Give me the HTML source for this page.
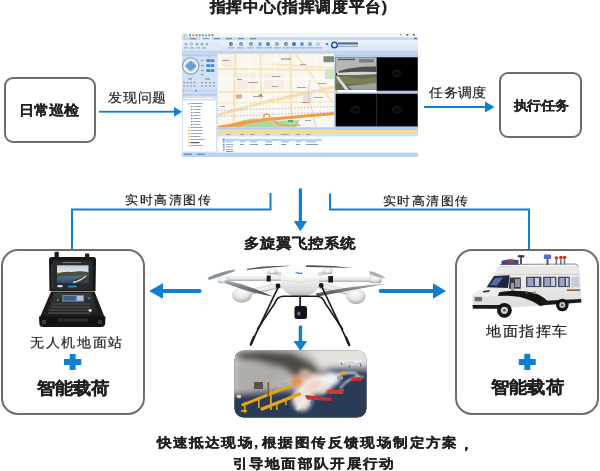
<!DOCTYPE html>
<html><head><meta charset="utf-8">
<style>
html,body{margin:0;padding:0;background:#fff;}
body{width:600px;height:471px;position:relative;overflow:hidden;font-family:"Liberation Sans",sans-serif;color:#231f20;}
.t{position:absolute;white-space:nowrap;line-height:1;}
.b{font-weight:bold;}
.box{position:absolute;box-sizing:border-box;border:2px solid #6d6d6d;background:#fff;}
svg{position:absolute;left:0;top:0;}
</style></head><body>
<!-- boxes -->
<div class="box" style="left:4.3px;top:77px;width:92px;height:66px;border-radius:9px;"></div>
<div class="box" style="left:498.6px;top:72.2px;width:83.3px;height:66.3px;border-radius:9px;"></div>
<div class="box" style="left:0.9px;top:248.7px;width:144.6px;height:166.2px;border-radius:17px;"></div>
<div class="box" style="left:454.7px;top:248.6px;width:144.3px;height:166.3px;border-radius:17px;"></div>

<svg width="600" height="471" viewBox="0 0 600 471">
  <g fill="#0f7fd3" stroke="none">
    <!-- arrow 发现问题 -->
    <rect x="99" y="110.8" width="76" height="1.8"/>
    <polygon points="174,107 182,111.7 174,116.7"/>
    <!-- arrow 任务调度 -->
    <rect x="424" y="106" width="62" height="2"/>
    <polygon points="485,101.5 494.5,107 485,112.5"/>
    <!-- central down arrow -->
    <rect x="298.8" y="188.3" width="3.2" height="34" rx="1.2"/>
    <polygon points="293.8,221 307.1,221 300.4,231.2"/>
    <!-- lower down arrow -->
    <rect x="298.7" y="325.6" width="3.4" height="17" rx="1.2"/>
    <polygon points="293.6,340.9 307.2,340.9 300.4,351.1"/>
    <!-- left arrow -->
    <rect x="160" y="289" width="41.5" height="4" rx="2"/>
    <polygon points="149,291 163,283.3 163,298.7"/>
    <!-- right arrow -->
    <rect x="378.7" y="289" width="56" height="4" rx="2"/>
    <polygon points="446,291 433,283.3 433,298.7"/>
    <!-- plus signs -->
    <rect x="64" y="359" width="17.3" height="6"/>
    <rect x="69.7" y="354" width="6" height="16"/>
    <rect x="518.8" y="359" width="17" height="6"/>
    <rect x="524.3" y="353.8" width="6" height="16.2"/>
  </g>
  <g fill="none" stroke="#0f7fd3" stroke-width="2">
    <polyline points="72,249 72,209.6 270.5,209.6 270.5,193"/>
    <polyline points="330,193.5 330,209.6 529,209.6 529,249"/>
  </g>
</svg>


<!-- screenshot -->
<svg style="left:182px;top:33px;" width="236" height="124" viewBox="182 33 236 124">
  <defs>
    <linearGradient id="rib" x1="0" y1="0" x2="0" y2="1">
      <stop offset="0" stop-color="#eef4fb"/><stop offset="1" stop-color="#cfdef1"/>
    </linearGradient>
    <clipPath id="mapclip"><rect x="217.5" y="54" width="117" height="73.5"/></clipPath>
    <radialGradient id="ptz" cx="0.5" cy="0.5" r="0.5">
      <stop offset="0" stop-color="#5aa0dc"/><stop offset="0.45" stop-color="#e8eef6"/><stop offset="0.8" stop-color="#9fb3cc"/><stop offset="1" stop-color="#e9f0f8"/>
    </radialGradient>
  </defs>
  <!-- window bg -->
  <rect x="182" y="33" width="236" height="124" fill="#d3e2f4"/>
  <rect x="182" y="33" width="236" height="4.5" fill="#f4f7fb"/>
  <circle cx="184.9" cy="36.3" r="2.3" fill="#e9eef5" stroke="#9fb6d6" stroke-width="0.5"/><circle cx="184.6" cy="36" r="1.1" fill="#f0b030"/>
  <g fill="#5b95d6"><rect x="189" y="34.3" width="2" height="2"/><rect x="192.2" y="34.3" width="2" height="2" fill="#d09a40"/><rect x="195.4" y="34.3" width="2" height="2" fill="#b08a50"/><rect x="198.6" y="34.3" width="2" height="2"/><rect x="201.8" y="34.3" width="2" height="2"/><rect x="205" y="34.3" width="2" height="2" fill="#7fb6e6"/><rect x="208.2" y="34.3" width="2" height="2" fill="#c0904a"/><rect x="211.4" y="34.3" width="2" height="2"/></g>
  <g fill="#555"><rect x="400" y="34.3" width="1.5" height="0.8"/><rect x="406.5" y="34" width="1.8" height="1.5"/><rect x="413" y="34" width="1.8" height="1.5"/></g>
  <rect x="182" y="37.3" width="236" height="2.9" fill="#c6daf2"/>
  <rect x="200.7" y="37.3" width="10.6" height="2.9" fill="#f4f7fb"/>
  <g fill="#4f6fa8"><rect x="190" y="38.3" width="6" height="0.9"/><rect x="202.5" y="38.3" width="7" height="0.9"/><rect x="214" y="38.3" width="6" height="0.9"/><rect x="226" y="38.3" width="6" height="0.9"/><rect x="238" y="38.3" width="6" height="0.9"/><rect x="250" y="38.3" width="6" height="0.9"/></g>
  <rect x="414" y="38" width="3" height="1.2" fill="#4f6fa8"/>
  <rect x="182" y="40.2" width="236" height="13.3" fill="url(#rib)"/>
  <rect x="182" y="51" width="236" height="2.5" fill="#c3d6ee"/>
  <!-- ribbon icons -->
  <g>
    <circle cx="186" cy="44" r="1.6" fill="#9ab4d6"/><circle cx="191.5" cy="44" r="1.8" fill="#a9c3e3"/><circle cx="197" cy="44" r="1.6" fill="#9ab4d6"/><circle cx="202" cy="44" r="1.6" fill="#9ab4d6"/><circle cx="207" cy="44" r="1.6" fill="#9ab4d6"/>
    <rect x="210" y="41.5" width="9" height="8" fill="#dfe8f3"/>
    <circle cx="231" cy="44" r="2" fill="#2f7ed0"/><circle cx="232" cy="44.5" r="1" fill="#f0a030"/>
    <circle cx="241" cy="44" r="2" fill="#5aa0e0"/><circle cx="241.5" cy="44.8" r="1" fill="#f3a437"/>
    <circle cx="251" cy="44" r="2" fill="#5a8fd0"/><circle cx="251" cy="44.8" r="1" fill="#f3b437"/>
    <circle cx="260" cy="44" r="2" fill="#6aa6dc"/>
    <circle cx="268" cy="44" r="2" fill="#3f8ad6"/>
    <circle cx="277" cy="44" r="2" fill="#6aa6dc"/><circle cx="277.5" cy="44.5" r="1" fill="#f3a437"/>
    <circle cx="286" cy="44" r="2" fill="#3f8ad6"/><circle cx="286.5" cy="44.5" r="1" fill="#f3b437"/>
    <circle cx="294" cy="44" r="2" fill="#2f70c0"/>
    <circle cx="302" cy="44" r="2" fill="#5aa0e0"/>
    <circle cx="310" cy="44" r="2" fill="#6aa6dc"/>
    <circle cx="318" cy="44" r="2" fill="#b8cde6"/>
    <circle cx="327" cy="44" r="1.3" fill="#4a80c8"/>
    <g fill="#7b94b8"><rect x="184" y="47.5" width="4" height="0.8"/><rect x="190" y="47.5" width="4" height="0.8"/><rect x="196" y="47.5" width="4" height="0.8"/><rect x="202" y="47.5" width="4" height="0.8"/><rect x="228" y="47.5" width="6" height="0.8"/><rect x="237" y="47.5" width="7" height="0.8"/><rect x="247" y="47.5" width="7" height="0.8"/><rect x="256" y="47.5" width="7" height="0.8"/><rect x="265" y="47.5" width="7" height="0.8"/><rect x="274" y="47.5" width="7" height="0.8"/><rect x="283" y="47.5" width="7" height="0.8"/><rect x="291" y="47.5" width="7" height="0.8"/><rect x="299" y="47.5" width="7" height="0.8"/><rect x="307" y="47.5" width="7" height="0.8"/><rect x="315" y="47.5" width="7" height="0.8"/></g>
    <!-- logo -->
    <circle cx="334.5" cy="45" r="2.8" fill="none" stroke="#1d4f9e" stroke-width="1.4"/>
    <rect x="338" y="42.3" width="20" height="2.2" fill="#5b6f92"/>
    <rect x="338" y="45.8" width="20" height="1" fill="#8f9fbb"/>
  </g>
  <!-- left panel -->
  <rect x="182" y="53.5" width="35.5" height="101" fill="#d2e1f3"/>
  <rect x="182" y="54" width="35" height="2.5" fill="#b9d0ec"/>
  <circle cx="190.7" cy="66" r="8.2" fill="#eef3f9" stroke="#8fa5c0" stroke-width="1.2"/>
  <circle cx="190.7" cy="66" r="5.6" fill="#c9d6e6"/>
  <path d="M185 66 L190.7 61 L196.4 66 L190.7 71 Z" fill="#7f93ad"/>
  <circle cx="190.7" cy="66" r="3" fill="#5ea3df"/>
  <g fill="#3f86d4"><rect x="206" y="59.3" width="8.5" height="2.6" rx="1.3"/><rect x="206" y="64.3" width="8.5" height="2.6" rx="1.3"/><rect x="206" y="69.3" width="8.5" height="2.6" rx="1.3"/></g>
  <g fill="#e8f0fa"><rect x="210" y="59.3" width="0.5" height="2.6"/><rect x="210" y="64.3" width="0.5" height="2.6"/><rect x="210" y="69.3" width="0.5" height="2.6"/></g>
  <g fill="#6a7a90"><rect x="201" y="60.2" width="2.5" height="0.9"/><rect x="201" y="65.2" width="2.5" height="0.9"/><rect x="201" y="70.2" width="2.5" height="0.9"/><rect x="201" y="74.2" width="2.5" height="0.9"/><rect x="188" y="78.5" width="4" height="0.9"/><rect x="205" y="78.5" width="5" height="0.9"/></g>
  <g fill="#8a9ab0"><rect x="183" y="82" width="2" height="1.2"/><rect x="186.5" y="82" width="2" height="1.2"/><rect x="190" y="82" width="2" height="1.2"/><rect x="193.5" y="82" width="2" height="1.2"/><rect x="201" y="82" width="2" height="1.2"/><rect x="205" y="82" width="2" height="1.2"/><rect x="209" y="82" width="2" height="1.2"/><rect x="213" y="82" width="2" height="1.2"/>
  <rect x="183" y="85.5" width="2" height="1.2"/><rect x="186.5" y="85.5" width="2" height="1.2"/><rect x="190" y="85.5" width="2" height="1.2"/><rect x="193.5" y="85.5" width="2" height="1.2"/><rect x="201" y="85.5" width="2" height="1.2"/><rect x="205" y="85.5" width="2" height="1.2"/><rect x="209" y="85.5" width="2" height="1.2"/><rect x="213" y="85.5" width="2" height="1.2"/></g>
  <rect x="182" y="89.5" width="35" height="2.3" fill="#c0d5ee"/>
  <rect x="183" y="90" width="1.5" height="1.5" fill="#f0a040"/><rect x="195" y="90" width="1.5" height="1.5" fill="#3f86d4"/>
  <rect x="182" y="93.5" width="35" height="2.5" fill="#b9d0ec"/>
  <rect x="184" y="97.3" width="30" height="2.4" fill="#ffffff" stroke="#aac0dc" stroke-width="0.4"/>
  <rect x="183" y="100.5" width="33" height="51" fill="#ffffff"/>
  <g fill="#3f92d8">
    <rect x="188" y="103" width="1.5" height="1.3" fill="#f0b040"/><rect x="190.5" y="103" width="12" height="0.8" fill="#8090a8"/>
    <rect x="191" y="106" width="1.5" height="1.3" fill="#4cae4c"/><rect x="193.5" y="106" width="8" height="0.8" fill="#8090a8"/>
    <rect x="191" y="109" width="1.5" height="1.3"/><rect x="193.5" y="109" width="7" height="0.8" fill="#8090a8"/>
    <rect x="191" y="112" width="1.5" height="1.3"/><rect x="193.5" y="112" width="7" height="0.8" fill="#8090a8"/>
    <rect x="191" y="115" width="1.5" height="1.3"/><rect x="193.5" y="115" width="7" height="0.8" fill="#8090a8"/>
    <rect x="191" y="118" width="1.5" height="1.3"/><rect x="193.5" y="118" width="7" height="0.8" fill="#8090a8"/>
    <rect x="191" y="121" width="1.5" height="1.3"/><rect x="193.5" y="121" width="7" height="0.8" fill="#8090a8"/>
    <rect x="191" y="124" width="1.5" height="1.3"/><rect x="193.5" y="124" width="7" height="0.8" fill="#8090a8"/>
    <rect x="188" y="127" width="1.5" height="1.3" fill="#f0b040"/><rect x="190.5" y="127" width="12" height="0.8" fill="#8090a8"/>
    <rect x="188" y="130" width="1.5" height="1.3" fill="#f0b040"/><rect x="190.5" y="130" width="12" height="0.8" fill="#8090a8"/>
    <rect x="188" y="133" width="1.5" height="1.3" fill="#f0b040"/><rect x="190.5" y="133" width="12" height="0.8" fill="#8090a8"/>
    <rect x="188" y="136" width="1.5" height="1.3" fill="#f0b040"/><rect x="190.5" y="136" width="10" height="0.8" fill="#8090a8"/>
    <rect x="188" y="139" width="1.5" height="1.3" fill="#f0b040"/><rect x="190.5" y="139" width="14" height="0.8" fill="#8090a8"/>
    <rect x="188" y="142" width="1.5" height="1.3" fill="#f0b040"/><rect x="190.5" y="142" width="9" height="1.2" fill="#555"/>
    <rect x="188" y="145" width="1.5" height="1.3" fill="#f0b040"/><rect x="190.5" y="145" width="12" height="0.8" fill="#8090a8"/>
  </g>
  <rect x="182" y="152.8" width="236" height="4" fill="#b9d4f3"/><rect x="416" y="134" width="1.5" height="18" fill="#e4e8ee"/>
  <rect x="184" y="153.5" width="8" height="1.5" fill="#6f93c4"/><rect x="197" y="153.5" width="8" height="1.5" fill="#6f93c4"/>
  <!-- map -->
  <g clip-path="url(#mapclip)">
    <rect x="217.5" y="54" width="117" height="73.5" fill="#faf7f1"/>
    <rect x="222" y="57" width="11" height="10" fill="#f2ede5"/>
    <rect x="237" y="73" width="19" height="17" fill="#f3eee6"/>
    <rect x="264" y="73" width="20" height="16" fill="#f3eee6"/>
    <rect x="303" y="93.6" width="8.6" height="9.4" fill="#e4e2df"/>
    <g stroke="#f6e4bb" fill="none">
      <path d="M235.5 54 L233.5 127.5" stroke-width="2.6"/>
      <path d="M260.5 54 L261 103" stroke-width="1.8"/>
      <path d="M290.4 54 L291.5 127.5" stroke-width="2.2"/>
      <path d="M217.5 69 L334.5 70" stroke-width="2"/>
      <path d="M217.5 92 L334.5 92" stroke-width="1.8"/>
      <path d="M295.5 54 L333 103" stroke-width="2"/>
      <path d="M217.5 115 L270 101 L334.5 87" stroke-width="3" stroke="#f4ddb0"/>
      <path d="M270 64 L334.5 68" stroke-width="1.5"/>
      <path d="M217.5 103 L334.5 102" stroke-width="1.2"/>
    </g>
    <g stroke="#ffffff" fill="none">
      <path d="M217.5 79 L334.5 79" stroke-width="1"/>
      <path d="M250 54 L248 127" stroke-width="0.8"/>
      <path d="M275 54 L276 127" stroke-width="0.8"/>
      <path d="M315 54 L318 127" stroke-width="0.8"/>
    </g>
    <path d="M310 80 Q306 95 312 110 L316 127.5" stroke="#b9c2c8" stroke-width="0.6" fill="none"/>
    <g stroke="#9fb4dc" stroke-width="0.9" stroke-dasharray="1.4 1.8" fill="none">
      <path d="M217.5 110.6 L334.5 106.5"/>
      <path d="M217.5 116.5 L334.5 112"/>
    </g>
    <path d="M226 127.5 Q238 120 252 118.5 Q262 118 270 121 L300 120 L296 127.5 Z" fill="#aed8a2"/>
    <path d="M218 127.5 L240 123.5 L262 120 L300 116.5 L334.5 113.5" stroke="#f39a45" stroke-width="3.2" fill="none"/>
    <path d="M236 127.5 Q250 122 262 119.5 Q272 117.5 276 122 Q280 127 300 125" stroke="#f29f4a" stroke-width="1.4" fill="none"/>
    <circle cx="266.8" cy="117" r="3" stroke="#f29f4a" stroke-width="1.3" fill="none"/>
    <path d="M258 96 l4 -2.5 l0 3 z" fill="#40b040"/>
    <rect x="323.5" y="56.2" width="10.5" height="6" fill="#7d8a7a"/>
    <rect x="325" y="70" width="9.5" height="9" fill="#cfe6c6"/>
    <rect x="288" y="120" width="5" height="2" fill="#40a8a0"/>
    <g fill="#a59a8c">
      <rect x="222" y="60" width="7" height="0.9"/><rect x="237" y="79" width="5" height="0.9"/><rect x="248" y="82" width="10" height="0.9"/>
      <rect x="300" y="64" width="6" height="0.9"/><rect x="297" y="87" width="9" height="0.9"/><rect x="253" y="96" width="10" height="0.9"/>
      <rect x="314" y="97" width="9" height="0.9"/><rect x="318" y="83" width="8" height="0.9"/><rect x="305" y="120" width="6" height="0.9"/>
      <rect x="272" y="76" width="8" height="0.9"/><rect x="272" y="86" width="6" height="0.9"/><rect x="220" y="106" width="5" height="0.9"/>
    </g>
    <rect x="281" y="58.5" width="10" height="1" fill="#b86a5a"/>
    <rect x="236" y="94.5" width="6" height="4" fill="#e0a890"/>
    <rect x="302" y="102" width="7" height="1" fill="#d08060"/>
  </g>
  <rect x="334.5" y="53.5" width="1" height="74" fill="#a9c4e6"/>
  <!-- video -->
  <rect x="335.5" y="54" width="82.5" height="3" fill="#b9d0ec"/>
  <rect x="335.5" y="57" width="82.5" height="73" fill="#a9caee"/>
  <rect x="335.7" y="57.3" width="40.8" height="33.4" fill="#000"/>
  <rect x="376.5" y="57.3" width="41.2" height="33.4" fill="#000"/>
  <rect x="335.7" y="93.8" width="82" height="32.6" fill="#000"/>
  <rect x="376" y="94.5" width="0.6" height="31.5" fill="#444"/>
  <rect x="335.7" y="89.7" width="40.8" height="2.6" fill="#ffffff"/><rect x="336" y="90.3" width="1.2" height="1.4" fill="#3fbf3f"/>
  <!-- stadium photo -->
  <rect x="335.7" y="57.3" width="40.8" height="16" fill="#b6b7b5"/>
  <rect x="338" y="58.8" width="17" height="1.3" fill="#555"/>
  <rect x="359" y="59" width="15" height="3.5" fill="#7a7d7b"/>
  <path d="M339 71 Q355 66 376.5 66.5 L376.5 72 L339 74 Z" fill="#4a4e4e"/>
  <path d="M337 73 Q355 71 376.5 72 L376.5 74.5 L337 75.5 Z" fill="#d4d6d2"/>
  <rect x="335.7" y="75" width="40.8" height="14.7" fill="#6b6a4c"/>
  <path d="M335.7 78 L345 76 L360 79 L376.5 77 L376.5 84 L335.7 84 Z" fill="#7a7f52"/>
  <path d="M336 77 L345 89.7 L349 89.7 L338 76 Z" fill="#dcdedb"/>
  <path d="M348 86 L376.5 83 L376.5 89.7 L352 89.7 Z" fill="#9ea29b"/>
  <g fill="none" stroke="#3a3a3a" stroke-width="0.5">
    <ellipse cx="397" cy="73.5" rx="4.5" ry="3.2"/><ellipse cx="397" cy="73.5" rx="2.5" ry="1.8"/>
    <ellipse cx="355.5" cy="109.5" rx="4.5" ry="3.2"/><ellipse cx="355.5" cy="109.5" rx="2.5" ry="1.8"/>
    <ellipse cx="397" cy="109.5" rx="4.5" ry="3.2"/><ellipse cx="397" cy="109.5" rx="2.5" ry="1.8"/>
  </g>
  <!-- bottom table -->
  <rect x="217.5" y="127.5" width="200.5" height="2" fill="#b5cfee"/>
  <rect x="217.5" y="130.2" width="200.5" height="2.8" fill="#f8da8e"/>
  <rect x="217.5" y="133" width="200.5" height="3.5" fill="#cfe0f4"/>
  <rect x="217.5" y="136.5" width="200.5" height="16" fill="#ffffff"/>
  <g fill="#8b98aa">
    <rect x="226" y="139" width="7" height="0.8"/><rect x="240" y="139" width="5" height="0.8"/><rect x="250" y="139" width="7" height="0.8"/><rect x="265" y="139" width="7" height="0.8"/><rect x="281" y="139" width="8" height="0.8"/><rect x="296" y="139" width="5" height="0.8"/><rect x="306" y="139" width="10" height="0.8"/>
    <rect x="226" y="141.5" width="7" height="0.8"/><rect x="240" y="141.5" width="5" height="0.8"/><rect x="250" y="141.5" width="7" height="0.8"/><rect x="265" y="141.5" width="7" height="0.8"/><rect x="281" y="141.5" width="8" height="0.8"/><rect x="296" y="141.5" width="5" height="0.8"/><rect x="306" y="141.5" width="10" height="0.8"/>
    <rect x="226" y="144" width="7" height="0.8"/><rect x="226" y="146.5" width="7" height="0.8"/><rect x="226" y="149" width="7" height="0.8"/>
  </g>
  <rect x="222" y="138.8" width="100" height="2.2" fill="#b9d2f2"/>
  <g fill="#e3e9f1"><rect x="238" y="133" width="0.5" height="19"/><rect x="249" y="133" width="0.5" height="19"/><rect x="262" y="133" width="0.5" height="19"/><rect x="279" y="133" width="0.5" height="19"/><rect x="294" y="133" width="0.5" height="19"/><rect x="305" y="133" width="0.5" height="19"/></g>
  <g fill="#6f7f95"><rect x="226" y="151" width="7" height="0.8"/>
  <rect x="240" y="144" width="4" height="0.8"/><rect x="250" y="144" width="8" height="0.8"/><rect x="265" y="144" width="7" height="0.8"/><rect x="281" y="144" width="5" height="0.8"/><rect x="296" y="144" width="4" height="0.8"/><rect x="306" y="144" width="12" height="0.8"/></g>
  <g fill="#4f8fd8"><rect x="223" y="138.8" width="1.6" height="1.6"/><rect x="223" y="141.5" width="1.6" height="1.6"/><rect x="223" y="144" width="1.6" height="1.6"/><rect x="223" y="146.5" width="1.6" height="1.6"/><rect x="223" y="149" width="1.6" height="1.6"/></g>
  <g fill="#8b98aa"><rect x="226" y="134.2" width="5" height="0.8"/><rect x="240" y="134.2" width="4" height="0.8"/><rect x="250" y="134.2" width="5" height="0.8"/><rect x="265" y="134.2" width="5" height="0.8"/><rect x="281" y="134.2" width="8" height="0.8"/><rect x="296" y="134.2" width="4" height="0.8"/><rect x="306" y="134.2" width="5" height="0.8"/></g>
  <rect x="418" y="33" width="0" height="125" fill="#aaa"/>
</svg>


<!-- drone -->
<svg width="600" height="471" viewBox="0 0 600 471">
  <defs>
    <linearGradient id="tube" x1="0" y1="0" x2="0" y2="1">
      <stop offset="0" stop-color="#f6f6f6"/><stop offset="0.55" stop-color="#e4e4e4"/><stop offset="1" stop-color="#a9a9a9"/>
    </linearGradient>
    <radialGradient id="pod" cx="0.45" cy="0.3" r="0.75">
      <stop offset="0" stop-color="#ffffff"/><stop offset="0.55" stop-color="#e4e4e2"/><stop offset="1" stop-color="#9d9d9a"/>
    </radialGradient>
    <linearGradient id="bodyg" x1="0" y1="0" x2="0" y2="1">
      <stop offset="0" stop-color="#fbfbfb"/><stop offset="0.45" stop-color="#efefed"/><stop offset="0.8" stop-color="#d9d9d5"/><stop offset="1" stop-color="#b3b3ae"/>
    </linearGradient>
    <linearGradient id="blade" x1="0" y1="0" x2="0" y2="1">
      <stop offset="0" stop-color="#a7afb7"/><stop offset="1" stop-color="#3f454c"/>
    </linearGradient>
  </defs>
  <!-- rear propellers -->
  <path d="M247 268.8 Q266 265.3 292 265.8 Q268 267.8 247 270 Z" fill="#50565c"/>
  <path d="M306 265.3 Q330 264.8 353 268 Q330 267.2 306 266.9 Z" fill="#50565c"/>
  <!-- rear arms -->
  <path d="M274 272.5 L286 276" stroke="#d8d8d8" stroke-width="4"/>
  <path d="M326 272.5 L314 276" stroke="#d8d8d8" stroke-width="4"/>
  <rect x="267.3" y="268.7" width="10" height="5.5" rx="2" fill="url(#pod)"/>
  <rect x="323" y="268.2" width="9.5" height="5.8" rx="2" fill="url(#pod)"/>
  <!-- far propellers -->
  <path d="M207.5 278 Q219 271.5 235.5 269.5 L234 271.5 Q222 276 209 280 Z" fill="#87929c"/>
  <!-- side arms -->
  <rect x="222" y="276" width="62" height="5" fill="url(#tube)"/>
  <rect x="316" y="276.7" width="65" height="5.2" fill="url(#tube)"/>
  <rect x="266.7" y="275.5" width="4" height="6" fill="#1a1a1a"/>
  <rect x="328.3" y="276" width="4.7" height="6.5" fill="#1a1a1a"/>
  <!-- far motors -->
  <rect x="218" y="276.7" width="10.7" height="6.6" rx="2.5" fill="url(#pod)"/>
  <rect x="369" y="275.3" width="12.7" height="8" rx="3" fill="url(#pod)"/>
  <path d="M369 271 Q379 272.5 386 278.5 Q378 277.5 370 274.5 Z" fill="#aab2b9"/>
  <!-- front arms -->
  <path d="M280 285.5 L252 291.5" stroke="#b9b9b6" stroke-width="5.6" stroke-linecap="round"/>
  <path d="M280 285 L252 291" stroke="#ececea" stroke-width="4" stroke-linecap="round"/>
  <path d="M319 285.5 L350 292.5" stroke="#b9b9b6" stroke-width="5.6" stroke-linecap="round"/>
  <path d="M319 285 L350 292" stroke="#ececea" stroke-width="4" stroke-linecap="round"/>
  <!-- front pods -->
  <ellipse cx="242" cy="294.7" rx="10" ry="8" fill="url(#pod)"/>
  <ellipse cx="356" cy="296.3" rx="9.7" ry="7.7" fill="url(#pod)"/>
  <!-- front propellers -->
  <path d="M224.5 280 Q248 284.5 273 296.5 Q252 293.5 226 283.5 Z" fill="url(#blade)"/>
  <path d="M315.5 293.5 Q352 285.5 387 283.8 Q352 290 317.5 296.5 Z" fill="url(#blade)"/>
  <!-- body -->
  <path d="M280.5 276 Q281.5 268.5 300 267.5 Q318.5 268.5 319 276 L318.5 286 Q315 296 300 296.5 Q285 296 281.5 286 Z" fill="url(#bodyg)"/>
  <ellipse cx="300" cy="273.5" rx="17" ry="5.3" fill="#fafafa"/>
  <path d="M283 280 Q300 284 317 280" stroke="#dcdcd8" stroke-width="0.8" fill="none"/>
  <path d="M295.5 273.2 l2.5 -0.8 l0.8 1.3 l2.6 -0.8 l0.7 1" stroke="#2f7fd8" stroke-width="1.1" fill="none"/>
  <circle cx="278" cy="286" r="2.4" fill="#161616"/>
  <circle cx="321.2" cy="285.5" r="2.4" fill="#161616"/>
  <!-- landing gear -->
  <g stroke="#1a1a1a" fill="none" stroke-linecap="round">
    <path d="M279 285.5 L250.5 345" stroke-width="1.7"/>
    <path d="M321 285 L349.5 345.5" stroke-width="1.7"/>
    <path d="M257.5 329 L275 303 Q277 296.8 283 296.3 L317 296.3 Q323 296.8 325 303 L342.5 329" stroke-width="1.6"/>
    <path d="M251 344 L254 337" stroke-width="2.4"/><path d="M349 344.5 L346 337.5" stroke-width="2.4"/>
  </g>
  <rect x="299.2" y="296" width="1.8" height="10" fill="#222"/>
  <rect x="294.5" y="306" width="12.5" height="13" rx="2.5" fill="#141414"/>
  <circle cx="298.8" cy="313.5" r="2.3" fill="#4a3f78"/>
  <circle cx="298.8" cy="313.5" r="0.9" fill="#9a90d0"/>
</svg>


<!-- ground station -->
<svg width="600" height="471" viewBox="0 0 600 471">
  <defs>
    <linearGradient id="scr" x1="0" y1="0" x2="0" y2="1">
      <stop offset="0" stop-color="#bcd0de"/><stop offset="0.35" stop-color="#dfe6ea"/><stop offset="0.5" stop-color="#5a6a70"/><stop offset="0.65" stop-color="#4a6a88"/><stop offset="1" stop-color="#2e4a68"/>
    </linearGradient>
    <linearGradient id="kb" x1="0" y1="0" x2="0" y2="1">
      <stop offset="0" stop-color="#3a3a3a"/><stop offset="1" stop-color="#1e1e1e"/>
    </linearGradient>
  </defs>
  <!-- latches -->
  <rect x="54.5" y="251.7" width="4.3" height="6.5" rx="1" fill="#1b1b1b"/>
  <rect x="85" y="253.4" width="4.3" height="5" rx="1" fill="#1b1b1b"/>
  <!-- lid -->
  <path d="M51 257 L94 257 Q96 257 96 259.5 L95.5 291 L49.5 291 L49 259.5 Q49 257 51 257 Z" fill="#161616"/>
  <rect x="52.8" y="260.5" width="40" height="29.5" fill="#2a2a2c"/>
  <rect x="57" y="265.3" width="31.5" height="17.8" fill="url(#scr)"/>
  <path d="M57 274 Q64 271 72 272 Q80 270.5 88.5 272 L88.5 275 Q80 275.5 72 276 Q64 276 57 277 Z" fill="#4b503c"/>
  <path d="M72 281 Q80 278 83 276 Q86 275.5 88.5 276 L88.5 283.1 L74 283.1 Z" fill="#3a3f3a"/>
  <path d="M73 282.5 Q80 281 86 276" stroke="#d8dcd0" stroke-width="1.3" fill="none"/>
  <rect x="63" y="262.2" width="18" height="0.9" fill="#8a8a8a"/>
  <rect x="68" y="285.7" width="8.6" height="1.7" fill="#2f8be0"/>
  <rect x="57.5" y="285" width="5" height="2.2" fill="#d8d8e8"/>
  <line x1="52" y1="264" x2="52" y2="289" stroke="#555" stroke-width="0.8"/>
  <!-- base -->
  <path d="M51 291.5 L94.5 291.5 L104.6 317 L40 317 Z" fill="#1c1c1c"/>
  <path d="M54 293 L91.5 293 L99 315 L46 315 Z" fill="url(#kb)"/>
  <rect x="62.2" y="295" width="22" height="6.8" fill="#6c84a6"/>
  <rect x="63.5" y="296" width="12" height="4.5" fill="#3d5f8a"/>
  <rect x="77" y="296" width="6" height="4.5" fill="#b9c4d6"/>
  <g fill="#555">
    <rect x="52" y="303.5" width="38" height="1.1"/>
    <rect x="51" y="306.5" width="39" height="1.1"/>
    <rect x="49" y="309.5" width="41" height="1.1"/>
    <rect x="48" y="312.5" width="43" height="1.1"/>
  </g>
  <circle cx="90.2" cy="310.3" r="1.6" fill="#e0e0e0"/>
  <rect x="57" y="299" width="2" height="2" fill="#3a9a6a"/>
  <rect x="88" y="297" width="2.2" height="2.2" fill="#2f6fd0"/>
  <!-- case bottom -->
  <path d="M39 316.5 L105.5 316.5 L105 325 Q104 327 101 327 L43 327 Q40 327 39.5 325 Z" fill="#121212"/>
  <rect x="58" y="318.5" width="30" height="3" fill="#2e2e2e"/>
  <rect x="42" y="320" width="4" height="4" fill="#3a3a3a"/>
  <rect x="98" y="320" width="4" height="4" fill="#3a3a3a"/>
</svg>
<!-- van -->
<svg width="600" height="471" viewBox="0 0 600 471">
  <defs>
    <linearGradient id="vanbody" x1="0" y1="0" x2="0" y2="1">
      <stop offset="0" stop-color="#f2f2f2"/><stop offset="1" stop-color="#dcdcdc"/>
    </linearGradient>
  </defs>
  <!-- roof equipment -->
  <rect x="517.8" y="255.2" width="6.5" height="2.2" fill="#333"/>
  <rect x="520" y="257" width="2" height="7" fill="#555"/>
  <path d="M501.5 261 Q505 259 510 259.5 L518.6 260 L518.6 265 L501.5 265 Z" fill="#3a4aa0"/>
  <rect x="508" y="259.5" width="6" height="3" fill="#c0302a"/>
  <rect x="543.8" y="254.5" width="7.4" height="4.5" rx="1" fill="#5a6cc8"/>
  <rect x="546.5" y="259" width="2" height="6" fill="#555"/>
  <g fill="#c8302a"><circle cx="556.4" cy="258" r="1.8"/><circle cx="560.9" cy="257.6" r="1.8"/><circle cx="564.6" cy="257.6" r="1.8"/></g>
  <g fill="#777"><rect x="555.5" y="259.5" width="1.6" height="5"/><rect x="560" y="259.5" width="1.6" height="5"/><rect x="563.7" y="259.5" width="1.6" height="5"/></g>
  <path d="M500 264.5 L575 264 L578 265.5 L578 267.5 L500 267" stroke="#666" stroke-width="0.8" fill="none"/>
  <!-- body -->
  <path d="M497 267 L576 265.5 Q579 266 579.5 270 L581.5 300 L580 303 L490 309 L473 307 L472 296 Q474 292 486 288 L494 276 Q496 268 497 267 Z" fill="url(#vanbody)"/>
  <path d="M497 267 L576 265.5 Q579 266 579 270 L579.5 274.5 L497 274 Z" fill="#e9e9e9"/>
  <line x1="495" y1="274.3" x2="580" y2="274.5" stroke="#b9b9b9" stroke-width="0.6"/>
  <!-- windshield -->
  <path d="M486.6 287.2 L494 276 L509.6 275.3 L508 288 Z" fill="#1e2740"/>
  <path d="M490 285 L495 278 L503 277.5 L497 285.5 Z" fill="#5a6aa8"/>
  <!-- door window -->
  <path d="M509.6 277.5 L520.8 277.5 L520.8 288.7 L509 288.7 Z" fill="#3a3a40"/><rect x="515" y="279" width="5" height="8" fill="#8f95a8"/>
  <rect x="511" y="283" width="3" height="8" fill="#9a9a9a"/>
  <!-- side windows -->
  <rect x="526" y="276.7" width="15.5" height="10.4" fill="#4a4d60"/>
  <rect x="543" y="276.7" width="13.4" height="10.4" fill="#4a4d60"/>
  <rect x="557.9" y="276.7" width="11.9" height="10.4" fill="#4a4d60"/>
  <rect x="571.3" y="276.7" width="8.1" height="10.4" fill="#c8ccd8"/>
  <g fill="#9aa2c4"><rect x="527.5" y="278" width="6" height="8"/><rect x="544.5" y="278" width="5.5" height="8"/><rect x="559.5" y="278" width="5" height="8"/></g><g fill="#c9cede"><rect x="535" y="278" width="4" height="8"/><rect x="551" y="278" width="4" height="8"/><rect x="566" y="278" width="2.5" height="8"/></g>
  <!-- stripe -->
  <rect x="566.8" y="289.4" width="13.4" height="1.5" fill="#8a5a2a"/>
  <path d="M498 292.5 Q515 289 535 293 Q545 297 550 304 L540 306 Q532 300 520 297 Q508 295 497 296 Z" fill="#141414"/>
  <path d="M540 301 L581 299 L581.5 302.5 L545 305 Z" fill="#1a1a1a"/>
  <circle cx="534.5" cy="292.5" r="1.6" fill="#c9a030"/>
  <rect x="525" y="291" width="3" height="3" fill="#555" opacity="0.5"/>
  <!-- hood / front -->
  <path d="M474 294.6 Q480 290 486.6 288 L500 290 L498 296 L476 297 Z" fill="#eeeeee"/>
  <rect x="474.7" y="296.9" width="7.3" height="4.4" fill="#6d6d6d"/><path d="M483 291 L490 290 L489 292 L483 292.5 Z" fill="#333"/>
  <rect x="482" y="298" width="7" height="4.5" fill="#d8dde6"/>
  <path d="M472.4 305 L499.2 305 L499.2 308.8 L473 308.8 Z" fill="#1a1a1a"/>
  <!-- wheels -->
  <circle cx="504.4" cy="310.3" r="7.4" fill="#151515"/>
  <circle cx="504.4" cy="310.3" r="3.6" fill="#cfcfcf"/><circle cx="504.4" cy="310.3" r="1.4" fill="#555"/>
  <circle cx="562.3" cy="305" r="6.3" fill="#151515"/>
  <circle cx="562.3" cy="305" r="3" fill="#c4c4c4"/><circle cx="562.3" cy="305" r="1.2" fill="#555"/>
</svg>
<!-- fire photo -->
<svg width="600" height="471" viewBox="0 0 600 471">
  <defs>
    <clipPath id="fclip"><rect x="234.5" y="350.5" width="132" height="67" rx="9"/></clipPath>
    <linearGradient id="sea" x1="0" y1="0" x2="0" y2="1">
      <stop offset="0" stop-color="#415268"/><stop offset="0.4" stop-color="#2c3e5c"/><stop offset="1" stop-color="#1e2f4e"/>
    </linearGradient>
    <filter id="bl3" x="-30%" y="-30%" width="160%" height="160%"><feGaussianBlur stdDeviation="3"/></filter>
    <filter id="bl2" x="-30%" y="-30%" width="160%" height="160%"><feGaussianBlur stdDeviation="2"/></filter>
    <filter id="bl1" x="-30%" y="-30%" width="160%" height="160%"><feGaussianBlur stdDeviation="0.8"/></filter>
  </defs>
  <g clip-path="url(#fclip)">
    <rect x="234" y="350" width="133" height="68" fill="#2a3b58"/>
    <g filter="url(#bl3)">
      <path d="M225 340 L375 340 L375 368 L330 369 L300 388 L260 394 L225 396 Z" fill="#c4c2c0"/>
      <path d="M300 340 L375 340 L375 366 L322 368 Z" fill="#e4e1dd"/>
      <path d="M234 352 L262 350 L292 352 L312 362 L326 378 L318 390 L302 382 L282 368 L258 362 L240 360 Z" fill="#4f4845"/>
      <path d="M236 364 L275 366 L292 380 L262 390 L236 388 Z" fill="#aeaca9"/>
      <path d="M225 394 L300 388 L370 368 L370 425 L225 425 Z" fill="#2b3a56"/>
    </g>
    <rect x="234" y="385" width="133" height="33" fill="url(#sea)" opacity="0"/>
    <g filter="url(#bl2)">

      <ellipse cx="314" cy="384" rx="19" ry="11" fill="#eed6cc"/>
      <ellipse cx="302" cy="399" rx="10" ry="12" fill="#eee2dc"/>
      <ellipse cx="330" cy="379" rx="10" ry="7" fill="#eef0f2"/>
      <ellipse cx="297" cy="382" rx="6" ry="6" fill="#e6905a"/>
      <ellipse cx="305" cy="374" rx="7" ry="5" fill="#c9a89a"/>
    </g>
    <g filter="url(#bl1)" fill="none" stroke="#f1f3f5">
      <path d="M334 379 Q342 371 355 373 L360 378" stroke-width="1.6"/>
      <path d="M318 390 Q326 376 333 381" stroke-width="1.6"/>
      <path d="M297 410 Q302 398 314 396" stroke-width="2.5"/>
      <path d="M322 394 Q330 372 345 372" stroke-width="1.2"/>
      <path d="M340 389 Q348 376 364 377" stroke-width="1.2"/>
      <path d="M300 392 Q310 376 322 380" stroke-width="1.5"/>
    </g>
    <!-- platform -->
    <g fill="#e2a41e">
      <path d="M241 404 L290 384.5 L291.5 387 L242.5 406.5 Z"/>
      <path d="M260 408 L300 392 L301.5 395 L261.5 411 Z"/>
      <rect x="244" y="402" width="1.6" height="11"/>
      <rect x="241" y="410" width="6" height="1.8"/>
      <rect x="258" y="397" width="1.6" height="11"/>
      <rect x="270" y="390" width="1.8" height="20"/>
      <rect x="276" y="402" width="1.6" height="8"/>
      <rect x="285" y="398" width="1.6" height="7"/>
    </g>
    <rect x="267.5" y="382" width="1.6" height="14" fill="#7a6044"/>
    <ellipse cx="239" cy="396.5" rx="2.3" ry="1.8" fill="#f6d36a"/>
    <rect x="254" y="382" width="9" height="7" fill="#5a5048"/>
    <rect x="281" y="382.5" width="7" height="2.8" fill="#9ab0cc"/>
    <!-- boats -->
    <path d="M305 395 L332 398 L331 401 L307 399.5 Z" fill="#c83030"/>
    <path d="M327 390 L344 389 L343 394 L329 394 Z" fill="#d23a30"/>
    <path d="M351 378 L362 377 L361 381 L352 381 Z" fill="#c53030"/>
    <rect x="337" y="376.5" width="6" height="3" fill="#9aa2aa"/>
    <rect x="340" y="372" width="5" height="2.5" fill="#dfa020"/>
    <rect x="311" y="401" width="3" height="4" fill="#3a6aa0"/>
    <!-- drone -->
    <rect x="339" y="360.5" width="23" height="1.8" fill="#f0f0f0"/>
    <rect x="346" y="361.5" width="9" height="3.5" rx="1" fill="#d6d6d6"/>
    <g stroke="#3a3a3a" stroke-width="0.6"><line x1="350" y1="365" x2="349" y2="368"/><line x1="360" y1="362.5" x2="361" y2="367"/><line x1="341" y1="362" x2="342" y2="365"/></g>
  </g>
</svg>

<!-- texts -->
<div class="t" style="left:209.9px;top:0.3px;font-size:16px;letter-spacing:0.59px;font-weight:700;transform:scale(1,0.95);transform-origin:0 0;-webkit-text-stroke:0.3px #231f20;color:#231f20;">指挥中心(指挥调度平台)</div>
<div class="t" style="left:19.0px;top:102.7px;font-size:15px;letter-spacing:-0.13px;font-weight:700;transform:scale(1,0.93);transform-origin:0 0;-webkit-text-stroke:0.25px #231f20;color:#231f20;">日常巡检</div>
<div class="t" style="left:108.3px;top:90.7px;font-size:14px;letter-spacing:0.63px;font-weight:400;transform:scale(1,0.93);transform-origin:0 0;-webkit-text-stroke:0.2px #202020;color:#202020;">发现问题</div>
<div class="t" style="left:429.2px;top:85.5px;font-size:14px;letter-spacing:0.33px;font-weight:400;transform:scale(1,0.93);transform-origin:0 0;-webkit-text-stroke:0.2px #202020;color:#202020;">任务调度</div>
<div class="t" style="left:513.8px;top:99.0px;font-size:14px;letter-spacing:-0.43px;font-weight:700;transform:scale(1,0.93);transform-origin:0 0;-webkit-text-stroke:0.2px #231f20;color:#231f20;">执行任务</div>
<div class="t" style="left:125.3px;top:193.8px;font-size:13px;letter-spacing:1.48px;font-weight:400;transform:scale(1,0.93);transform-origin:0 0;-webkit-text-stroke:0.2px #202020;color:#202020;">实时高清图传</div>
<div class="t" style="left:382.6px;top:194.5px;font-size:13px;letter-spacing:1.52px;font-weight:400;transform:scale(1,0.93);transform-origin:0 0;-webkit-text-stroke:0.2px #202020;color:#202020;">实时高清图传</div>
<div class="t" style="left:244.2px;top:235.5px;font-size:15px;letter-spacing:0.97px;font-weight:700;transform:scale(1,0.9);transform-origin:0 0;-webkit-text-stroke:0.3px #231f20;color:#231f20;">多旋翼飞控系统</div>
<div class="t" style="left:30.3px;top:335.7px;font-size:14px;letter-spacing:1.6px;font-weight:400;transform:scale(1,0.93);transform-origin:0 0;-webkit-text-stroke:0.2px #202020;color:#202020;">无人机地面站</div>
<div class="t" style="left:486.1px;top:324.4px;font-size:15px;letter-spacing:1.47px;font-weight:400;transform:scale(1,0.93);transform-origin:0 0;-webkit-text-stroke:0.2px #202020;color:#202020;">地面指挥车</div>
<div class="t" style="left:37.3px;top:379.8px;font-size:18px;letter-spacing:0.0px;font-weight:700;transform:scale(1,0.93);transform-origin:0 0;-webkit-text-stroke:0.35px #231f20;color:#231f20;">智能载荷</div>
<div class="t" style="left:491.0px;top:379.2px;font-size:18px;letter-spacing:0.17px;font-weight:700;transform:scale(1,0.93);transform-origin:0 0;-webkit-text-stroke:0.35px #231f20;color:#231f20;">智能载荷</div>
<div class="t" style="left:156.5px;top:435.0px;font-size:15px;letter-spacing:1.23px;font-weight:700;transform:scale(1,0.89);transform-origin:0 0;-webkit-text-stroke:0.3px #231f20;color:#231f20;">快速抵达现场,</div>
<div class="t" style="left:262.1px;top:435.0px;font-size:15px;letter-spacing:1.39px;font-weight:700;transform:scale(1,0.89);transform-origin:0 0;-webkit-text-stroke:0.3px #231f20;color:#231f20;">根据图传反馈现场制定方案</div>
<div class="t" style="left:232.5px;top:456.0px;font-size:15px;letter-spacing:1.33px;font-weight:700;transform:scale(1,0.89);transform-origin:0 0;-webkit-text-stroke:0.3px #231f20;color:#231f20;">引导地面部队开展行动</div>
<div class="t" style="left:459px;top:436.8px;font-size:15px;font-weight:700;transform:scale(1,0.89);transform-origin:0 0;-webkit-text-stroke:0.3px #231f20;color:#231f20;">，</div>
</body></html>
